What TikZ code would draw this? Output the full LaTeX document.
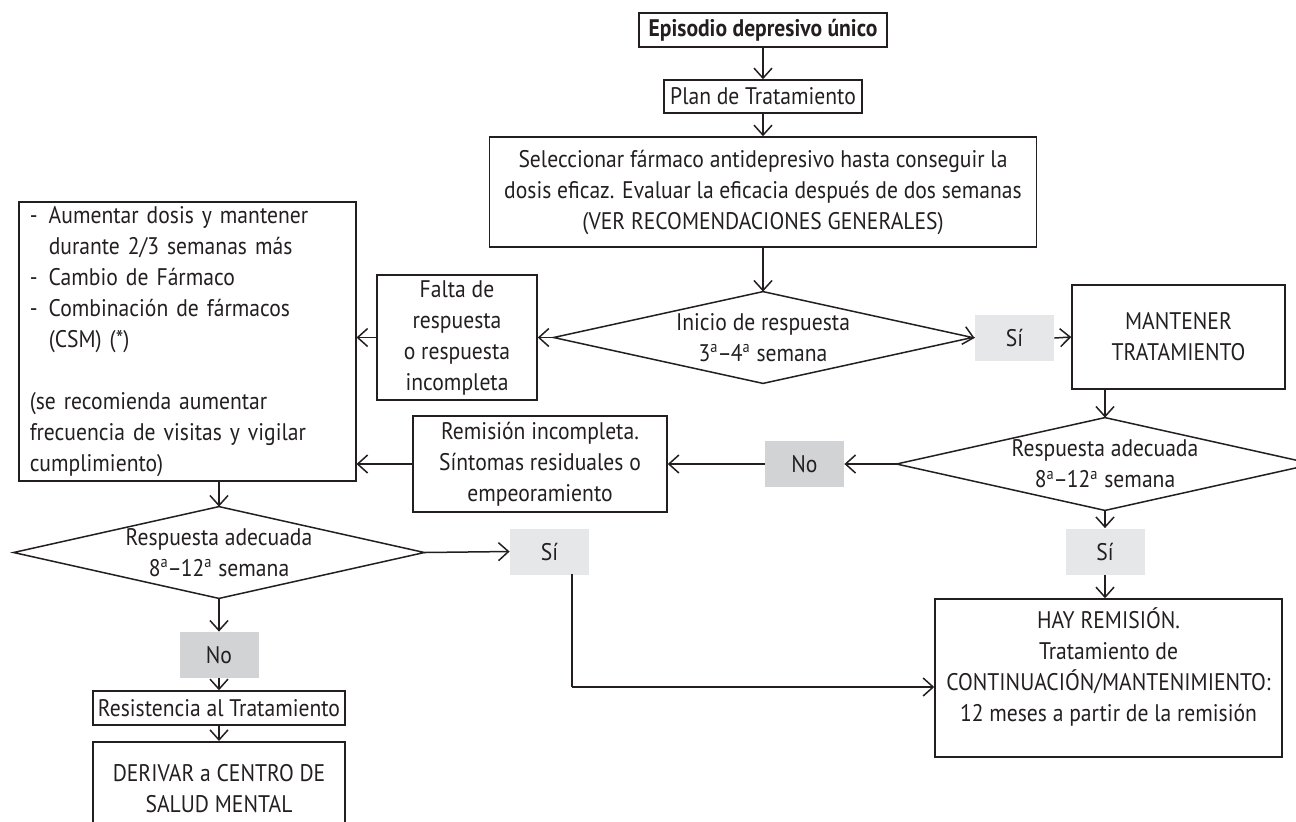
\documentclass[tikz,border=0pt]{standalone}
\usepackage{fontspec}
\setmainfont{PT Sans}[FakeStretch=0.9]
\usetikzlibrary{arrows.meta}
\definecolor{ink}{HTML}{231F20}
\definecolor{sifill}{HTML}{E6E7E8}
\definecolor{nofill}{HTML}{D1D3D4}
\newcommand{\ord}{\textsuperscript{a}}
\newcommand{\rng}[2]{#1\ord\kern-0.5pt--\kern-0.5pt#2\ord}
\newcommand{\dashitem}{\makebox[9.5pt][l]{-}}
\begin{document}
\begin{tikzpicture}[x=0.5pt,y=-0.5pt,
  every node/.style={font=\fontsize{12}{15.5}\selectfont, text=ink,
    execute at begin node=\setlength{\baselineskip}{15.5pt}},
  box/.style={draw=ink, line width=0.75pt, align=center, inner sep=0pt},
  dia/.style={align=center, inner sep=0pt},
  sibox/.style={fill=sifill, inner sep=0pt, minimum width=39.5pt, minimum height=23pt},
  nobox/.style={fill=nofill, inner sep=0pt, minimum width=39.5pt, minimum height=23pt},
  arr/.style={draw=ink, line width=0.75pt, -{Straight Barb[length=5pt,width=9pt,line width=0.75pt]}},
  ln/.style={draw=ink, line width=0.75pt}]
\useasboundingbox (0,0) rectangle (1296,821);

\node[box, minimum width=124pt, minimum height=17pt, font=\fontsize{12}{15.5}\selectfont\bfseries] (ep) at (763,30) {Episodio depresivo único};
\node[box, minimum width=99pt, minimum height=16.5pt] (plan) at (763,96.5) {Plan de Tratamiento};
\node[box, minimum width=273.5pt, minimum height=55pt] (sel) at (763,192) {Seleccionar fármaco antidepresivo hasta conseguir la\\dosis eficaz. Evaluar la eficacia después de dos semanas\\(VER RECOMENDACIONES GENERALES)};
\node[dia, minimum width=209pt, minimum height=45.5pt] (d1) at (763,337.5) {Inicio de respuesta\\\rng{3}{4} semana};
\draw[ln] (d1.north) -- (d1.east) -- (d1.south) -- (d1.west) -- cycle;
\node[box, minimum width=80pt, minimum height=62.5pt] (falta) at (457,337.5) {Falta de\\respuesta\\o respuesta\\incompleta};
\node[box, anchor=north west, minimum width=168.5pt, minimum height=139.5pt, inner xsep=5.5pt, text width=157.5pt, align=left] (opts) at (18,201) {\dashitem Aumentar dosis y mantener\\\hspace*{9.5pt}durante 2/3 semanas más\\\dashitem Cambio de Fármaco\\\dashitem Combinación de fármacos\\\hspace*{9.5pt}(CSM) (*)\\[15.5pt](se recomienda aumentar\\frecuencia de visitas y vigilar\\cumplimiento)};
\node[sibox] (si1) at (1014.5,338) {Sí};
\node[box, minimum width=106.5pt, minimum height=52pt] (mant) at (1178.5,337) {MANTENER\\TRATAMIENTO};
\node[dia, minimum width=208pt, minimum height=46pt] (d2) at (1105,464) {Respuesta adecuada\\\rng{8}{12} semana};
\draw[ln] (d2.north) -- (d2.east) -- (d2.south) -- (d2.west) -- cycle;
\node[nobox] (no1) at (804.5,464) {No};
\node[box, minimum width=127pt, minimum height=48pt] (rem) at (540,464) {Remisión incompleta.\\Síntomas residuales o\\empeoramiento};
\node[dia, minimum width=205pt, minimum height=45.5pt] (d3) at (219,552.5) {Respuesta adecuada\\\rng{8}{12} semana};
\draw[ln] (d3.north) -- (d3.east) -- (d3.south) -- (d3.west) -- cycle;
\node[sibox] (si3) at (549.5,551.5) {Sí};
\node[sibox] (si2) at (1105,551.5) {Sí};
\node[box, minimum width=173.5pt, minimum height=79pt] (hay) at (1108.5,678) {HAY REMISIÓN.\\Tratamiento de\\CONTINUACIÓN/MANTENIMIENTO:\\12 meses a partir de la remisión\\[-2pt]\mbox{}};
\node[nobox] (no2) at (219,655) {No};
\node[box, minimum width=126pt, minimum height=17pt] (resis) at (219,708) {Resistencia al Tratamiento};
\node[box, anchor=north, minimum width=126pt, minimum height=47pt] (der) at (219,741) {DERIVAR a CENTRO DE\\SALUD MENTAL};

\coordinate (sidrop) at (572,574);
\coordinate (bend) at (572,687);

\draw[arr] (ep) -- (plan);
\draw[arr] (plan) -- (sel);
\draw[arr] (sel) -- (d1.north);
\draw[arr] (d1.west) -- (falta.east);
\draw[arr] (falta.west) -- (falta.west -| opts.east);
\draw[arr] (d1.east) -- (si1.west);
\draw[arr] (si1.east) -- (mant.west);
\draw[arr] (mant.south -| d2.north) -- (d2.north);
\draw[arr] (d2.west) -- (no1.east);
\draw[arr] (no1.west) -- (rem.east);
\draw[arr] (rem.west) -- (rem.west -| opts.east);
\draw[arr] (d3.north |- opts.south) -- (d3.north);
\draw[arr] (d3.east) -- (si3.west);
\draw[arr] (d2.south) -- (si2.north);
\draw[arr] (si2.south) -- (si2.south |- hay.north);
\draw[ln] (sidrop) -- (bend);
\draw[arr] (bend) -- (bend -| hay.west);
\draw[arr] (d3.south) -- (no2.north);
\draw[arr] (no2.south) -- (no2.south |- resis.north);
\draw[arr] (resis.south) -- (resis.south |- der.north);
\end{tikzpicture}
\end{document}
